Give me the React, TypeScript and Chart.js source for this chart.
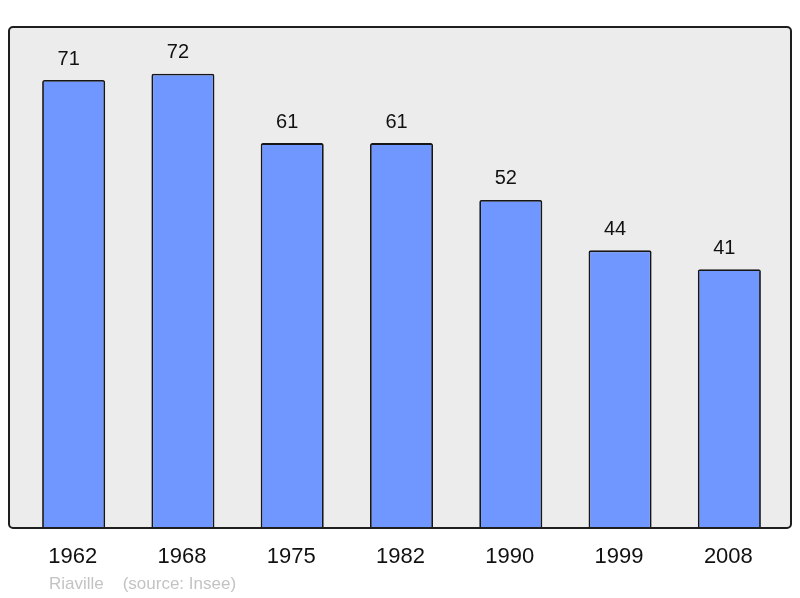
import React, { useEffect, useRef } from "react";
import { Chart, registerables } from "chart.js";

Chart.register(...registerables);

const years = ["1962", "1968", "1975", "1982", "1990", "1999", "2008"];
const population = [71, 72, 61, 61, 52, 44, 41];
const sourceText = "Riaville    (source: Insee)";

const frameRect = { left: 9, top: 27, right: 791, bottom: 528 };

const decorPlugin = {
  id: "decor",
  beforeDraw(chart: any) {
    const ctx = chart.ctx;
    const { left, top, right, bottom } = frameRect;
    ctx.save();
    ctx.beginPath();
    (ctx as any).roundRect(left, top, right - left, bottom - top, 4);
    ctx.fillStyle = "#ececec";
    ctx.fill();
    ctx.restore();
  },
  afterDatasetsDraw(chart: any) {
    const ctx = chart.ctx;
    const { left, top, right, bottom } = frameRect;
    ctx.save();
    ctx.beginPath();
    (ctx as any).roundRect(left, top, right - left, bottom - top, 4);
    ctx.lineWidth = 2;
    ctx.strokeStyle = "#1e1e1e";
    ctx.stroke();

    const meta = chart.getDatasetMeta(0);
    ctx.fillStyle = "#111";
    ctx.textAlign = "center";
    ctx.textBaseline = "middle";
    ctx.font = "20px 'Liberation Sans', Arial, sans-serif";
    meta.data.forEach((bar: any, i: number) => {
      ctx.fillText(String(population[i]), bar.x - 5, bar.y - 21);
    });
    ctx.font = "22px 'Liberation Sans', Arial, sans-serif";
    const xs = chart.scales.x;
    years.forEach((y, i) => {
      ctx.fillText(y, xs.getPixelForValue(i) - 1, 557);
    });
    ctx.textAlign = "left";
    ctx.fillStyle = "#c3c3c3";
    ctx.font = "17px 'Liberation Sans', Arial, sans-serif";
    ctx.fillText(sourceText, 49, 584);
    ctx.restore();
  },
};

export default function App() {
  const ref = useRef<HTMLCanvasElement>(null);
  useEffect(() => {
    const chart = new Chart(ref.current!, {
      type: "bar",
      data: {
        labels: years,
        datasets: [
          {
            data: population,
            backgroundColor: "#7097ff",
            borderColor: "#161616",
            borderWidth: 1.8,
            borderRadius: { topLeft: 2, topRight: 2, bottomLeft: 0, bottomRight: 0 },
            borderSkipped: "bottom",
            categoryPercentage: 1,
            barPercentage: 0.577,
          },
        ],
      },
      options: {
        responsive: false,
        animation: false,
        layout: { padding: { left: 19, right: 16, top: 27, bottom: 70 } },
        plugins: { legend: { display: false }, tooltip: { enabled: false } },
        scales: {
          x: { display: false, offset: true },
          y: { display: false, min: 0, max: 79.4 },
        },
      },
      plugins: [decorPlugin],
    });
    return () => chart.destroy();
  }, []);
  return (
    <div style={{ position: "absolute", left: 0, top: 0, width: 800, height: 598, background: "#fff" }}>
      <canvas ref={ref} width={800} height={598} style={{ width: 800, height: 598 }} />
    </div>
  );
}
